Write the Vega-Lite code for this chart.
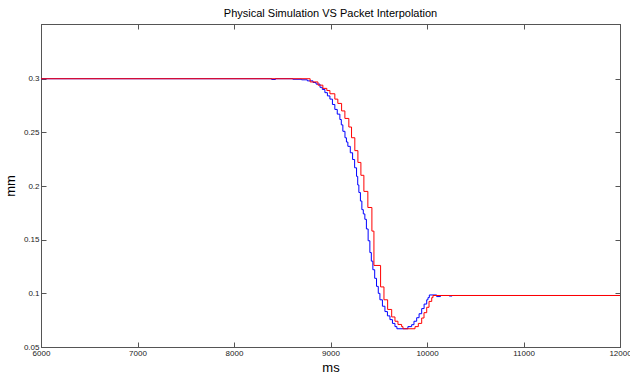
{
  "$schema": "https://vega.github.io/schema/vega-lite/v6.json",
  "autosize": "none",
  "width": 579,
  "height": 323,
  "padding": {"left": 41, "top": 24, "right": 10, "bottom": 26},
  "background": "white",
  "config": {
    "font": "Liberation Sans",
    "view": {"stroke": "#555", "strokeWidth": 1},
    "axis": {
      "grid": false,
      "domainColor": "#555",
      "tickColor": "#555",
      "tickSize": -5,
      "labelFont": "Liberation Sans",
      "labelFontSize": 8,
      "labelColor": "#222",
      "titleFont": "Liberation Sans",
      "titleFontWeight": "normal",
      "titleColor": "#000",
      "titleFontSize": 13
    }
  },
  "title": {
    "text": "Physical Simulation VS Packet Interpolation",
    "fontSize": 11,
    "fontWeight": "normal",
    "font": "Liberation Sans",
    "color": "#000",
    "anchor": "middle",
    "offset": 5
  },
  "data": {
    "values": [
      {"s": "blue", "t": 6000, "v": 0.3},
      {"s": "blue", "t": 8390, "v": 0.2993},
      {"s": "blue", "t": 8430, "v": 0.3},
      {"s": "blue", "t": 8610, "v": 0.2995},
      {"s": "blue", "t": 8700, "v": 0.299},
      {"s": "blue", "t": 8760, "v": 0.298},
      {"s": "blue", "t": 8819, "v": 0.2965},
      {"s": "blue", "t": 8850, "v": 0.295},
      {"s": "blue", "t": 8891, "v": 0.292},
      {"s": "blue", "t": 8915, "v": 0.29},
      {"s": "blue", "t": 8942, "v": 0.287},
      {"s": "blue", "t": 8968, "v": 0.284},
      {"s": "blue", "t": 8994, "v": 0.281},
      {"s": "blue", "t": 9020, "v": 0.276},
      {"s": "blue", "t": 9045, "v": 0.2714},
      {"s": "blue", "t": 9070, "v": 0.267},
      {"s": "blue", "t": 9097, "v": 0.262},
      {"s": "blue", "t": 9112, "v": 0.257},
      {"s": "blue", "t": 9128, "v": 0.251},
      {"s": "blue", "t": 9150, "v": 0.245},
      {"s": "blue", "t": 9165, "v": 0.241},
      {"s": "blue", "t": 9180, "v": 0.237},
      {"s": "blue", "t": 9205, "v": 0.231},
      {"s": "blue", "t": 9229, "v": 0.2247},
      {"s": "blue", "t": 9250, "v": 0.217},
      {"s": "blue", "t": 9270, "v": 0.209},
      {"s": "blue", "t": 9282, "v": 0.201},
      {"s": "blue", "t": 9294, "v": 0.194},
      {"s": "blue", "t": 9310, "v": 0.186},
      {"s": "blue", "t": 9325, "v": 0.178},
      {"s": "blue", "t": 9340, "v": 0.174},
      {"s": "blue", "t": 9356, "v": 0.169},
      {"s": "blue", "t": 9372, "v": 0.16},
      {"s": "blue", "t": 9390, "v": 0.149},
      {"s": "blue", "t": 9408, "v": 0.138},
      {"s": "blue", "t": 9423, "v": 0.13},
      {"s": "blue", "t": 9439, "v": 0.122},
      {"s": "blue", "t": 9458, "v": 0.114},
      {"s": "blue", "t": 9477, "v": 0.1065},
      {"s": "blue", "t": 9495, "v": 0.1},
      {"s": "blue", "t": 9512, "v": 0.094},
      {"s": "blue", "t": 9538, "v": 0.088},
      {"s": "blue", "t": 9564, "v": 0.083},
      {"s": "blue", "t": 9590, "v": 0.079},
      {"s": "blue", "t": 9616, "v": 0.0755},
      {"s": "blue", "t": 9642, "v": 0.072},
      {"s": "blue", "t": 9668, "v": 0.069},
      {"s": "blue", "t": 9688, "v": 0.067},
      {"s": "blue", "t": 9802, "v": 0.069},
      {"s": "blue", "t": 9841, "v": 0.0708},
      {"s": "blue", "t": 9865, "v": 0.074},
      {"s": "blue", "t": 9893, "v": 0.0773},
      {"s": "blue", "t": 9918, "v": 0.081},
      {"s": "blue", "t": 9945, "v": 0.0858},
      {"s": "blue", "t": 9970, "v": 0.09},
      {"s": "blue", "t": 9997, "v": 0.094},
      {"s": "blue", "t": 10010, "v": 0.096},
      {"s": "blue", "t": 10024, "v": 0.0985},
      {"s": "blue", "t": 10100, "v": 0.097},
      {"s": "blue", "t": 10140, "v": 0.098},
      {"s": "blue", "t": 10230, "v": 0.0975},
      {"s": "blue", "t": 10260, "v": 0.098},
      {"s": "blue", "t": 12000, "v": 0.098},
      {"s": "red", "t": 6000, "v": 0.3},
      {"s": "red", "t": 8789, "v": 0.297},
      {"s": "red", "t": 8870, "v": 0.294},
      {"s": "red", "t": 8921, "v": 0.291},
      {"s": "red", "t": 8962, "v": 0.289},
      {"s": "red", "t": 8994, "v": 0.286},
      {"s": "red", "t": 9045, "v": 0.281},
      {"s": "red", "t": 9076, "v": 0.277},
      {"s": "red", "t": 9115, "v": 0.27},
      {"s": "red", "t": 9149, "v": 0.263},
      {"s": "red", "t": 9190, "v": 0.255},
      {"s": "red", "t": 9218, "v": 0.245},
      {"s": "red", "t": 9252, "v": 0.233},
      {"s": "red", "t": 9284, "v": 0.222},
      {"s": "red", "t": 9315, "v": 0.21},
      {"s": "red", "t": 9346, "v": 0.195},
      {"s": "red", "t": 9387, "v": 0.18},
      {"s": "red", "t": 9429, "v": 0.158},
      {"s": "red", "t": 9450, "v": 0.126},
      {"s": "red", "t": 9519, "v": 0.106},
      {"s": "red", "t": 9554, "v": 0.094},
      {"s": "red", "t": 9592, "v": 0.085},
      {"s": "red", "t": 9634, "v": 0.078},
      {"s": "red", "t": 9668, "v": 0.074},
      {"s": "red", "t": 9699, "v": 0.071},
      {"s": "red", "t": 9737, "v": 0.069},
      {"s": "red", "t": 9751, "v": 0.067},
      {"s": "red", "t": 9876, "v": 0.069},
      {"s": "red", "t": 9910, "v": 0.072},
      {"s": "red", "t": 9945, "v": 0.077},
      {"s": "red", "t": 9969, "v": 0.082},
      {"s": "red", "t": 9997, "v": 0.087},
      {"s": "red", "t": 10021, "v": 0.0925},
      {"s": "red", "t": 10049, "v": 0.096},
      {"s": "red", "t": 10062, "v": 0.098},
      {"s": "red", "t": 12000, "v": 0.098}
    ]
  },
  "layer": [
    {
      "transform": [{"filter": "datum.s === 'blue'"}],
      "mark": {"type": "line", "interpolate": "step-after", "color": "#0000ff", "strokeWidth": 1, "clip": true},
      "encoding": {
        "x": {
          "field": "t", "type": "quantitative",
          "scale": {"domain": [6000, 12000], "nice": false, "zero": false},
          "axis": {"title": "ms", "values": [6000, 7000, 8000, 9000, 10000, 11000, 12000], "format": "d", "labelPadding": 7, "titlePadding": 4, "labelFlush": false}
        },
        "y": {
          "field": "v", "type": "quantitative",
          "scale": {"domain": [0.05, 0.351], "nice": false, "zero": false},
          "axis": {"title": "mm", "values": [0.05, 0.1, 0.15, 0.2, 0.25, 0.3], "format": "~g", "labelPadding": 7, "titlePadding": 6}
        }
      }
    },
    {
      "transform": [{"filter": "datum.s === 'red'"}],
      "mark": {"type": "line", "interpolate": "step-after", "color": "#ff0000", "strokeWidth": 1, "clip": true},
      "encoding": {
        "x": {
          "field": "t", "type": "quantitative",
          "axis": {"orient": "top", "title": null, "labels": false, "values": [6000, 7000, 8000, 9000, 10000, 11000, 12000]}
        },
        "y": {
          "field": "v", "type": "quantitative",
          "axis": {"orient": "right", "title": null, "labels": false, "values": [0.05, 0.1, 0.15, 0.2, 0.25, 0.3]}
        }
      }
    }
  ],
  "resolve": {"axis": {"x": "independent", "y": "independent"}}
}
